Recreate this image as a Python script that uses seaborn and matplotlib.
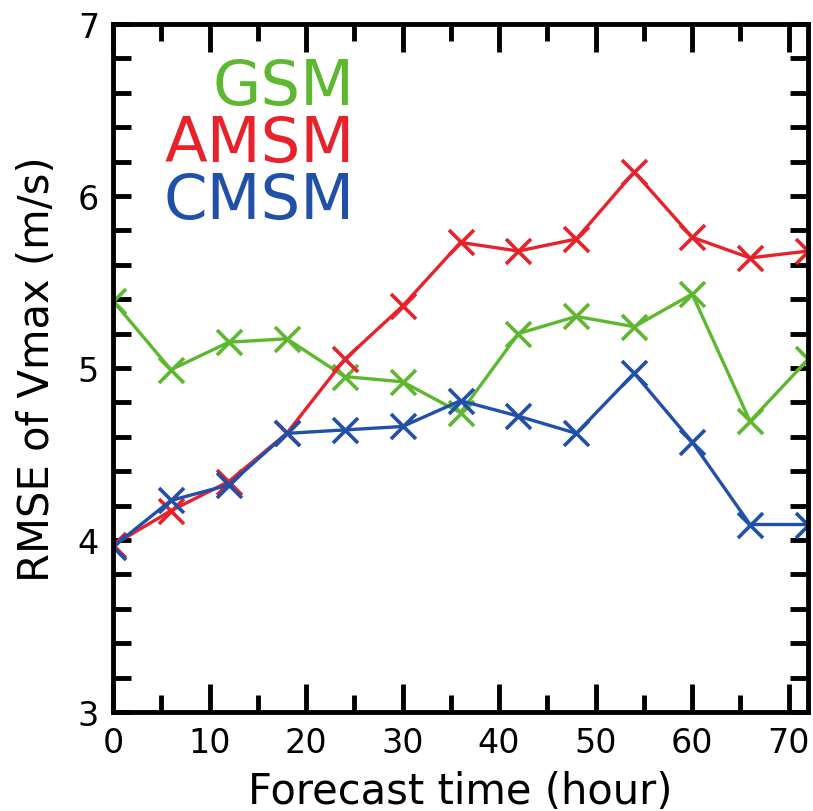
import matplotlib
matplotlib.use("Agg")
import matplotlib.pyplot as plt
import seaborn as sns
import pandas as pd
from matplotlib.ticker import MultipleLocator

hours = [0, 6, 12, 18, 24, 30, 36, 42, 48, 54, 60, 66, 72]
gsm = [5.39, 4.99, 5.15, 5.17, 4.95, 4.92, 4.74, 5.20, 5.30, 5.24, 5.43, 4.69, 5.05]
amsm = [3.97, 4.17, 4.34, 4.62, 5.05, 5.36, 5.73, 5.68, 5.75, 6.14, 5.76, 5.64, 5.68]
cmsm = [3.96, 4.23, 4.32, 4.62, 4.64, 4.66, 4.81, 4.72, 4.62, 4.97, 4.57, 4.09, 4.09]
series_names = ["GSM", "AMSM", "CMSM"]
colors = {"GSM": "#5db830", "AMSM": "#e8222a", "CMSM": "#2050a8"}

df = pd.concat([
    pd.DataFrame({"hour": hours, "rmse": vals, "model": name})
    for name, vals in zip(series_names, [gsm, amsm, cmsm])
])

sns.set_style("white")
plt.rcParams["font.family"] = ["DejaVu Sans"]

fig = plt.figure(figsize=(8.13, 8.12), dpi=100)
ax = fig.add_axes([113/813, 1 - 713/812, 695/813, 688/812])

for name in series_names:
    sns.lineplot(data=df[df["model"] == name], x="hour", y="rmse", ax=ax,
                 color=colors[name], marker="x", markersize=18,
                 markeredgewidth=2.6, linewidth=2.4, markeredgecolor=colors[name])

ax.set_xlim(0, 72)
ax.set_ylim(3, 7)
ax.xaxis.set_major_locator(MultipleLocator(10))
ax.xaxis.set_minor_locator(MultipleLocator(5))
ax.yaxis.set_major_locator(MultipleLocator(1))
ax.yaxis.set_minor_locator(MultipleLocator(0.2))
ax.tick_params(which="both", direction="in", top=True, right=True, bottom=True,
               left=True, width=3.5, labelsize=24, colors="black", pad=10)
ax.tick_params(axis="x", which="major", length=20)
ax.tick_params(axis="x", which="minor", length=12)
ax.tick_params(axis="y", which="major", length=13)
ax.tick_params(axis="y", which="minor", length=13)
for s in ax.spines.values():
    s.set_linewidth(3.5)
    s.set_color("black")

ax.set_xlabel("Forecast time (hour)", fontsize=30, labelpad=8, color="black")
ax.set_ylabel("RMSE of Vmax (m/s)", fontsize=30, labelpad=14, color="black")

ypos = [0.884, 0.801, 0.718]
for name, yp in zip(series_names, ypos):
    ax.text(0.348, yp, name, transform=ax.transAxes, ha="right", va="baseline",
            fontsize=45, color=colors[name])

fig.savefig("out.png", dpi=100)
